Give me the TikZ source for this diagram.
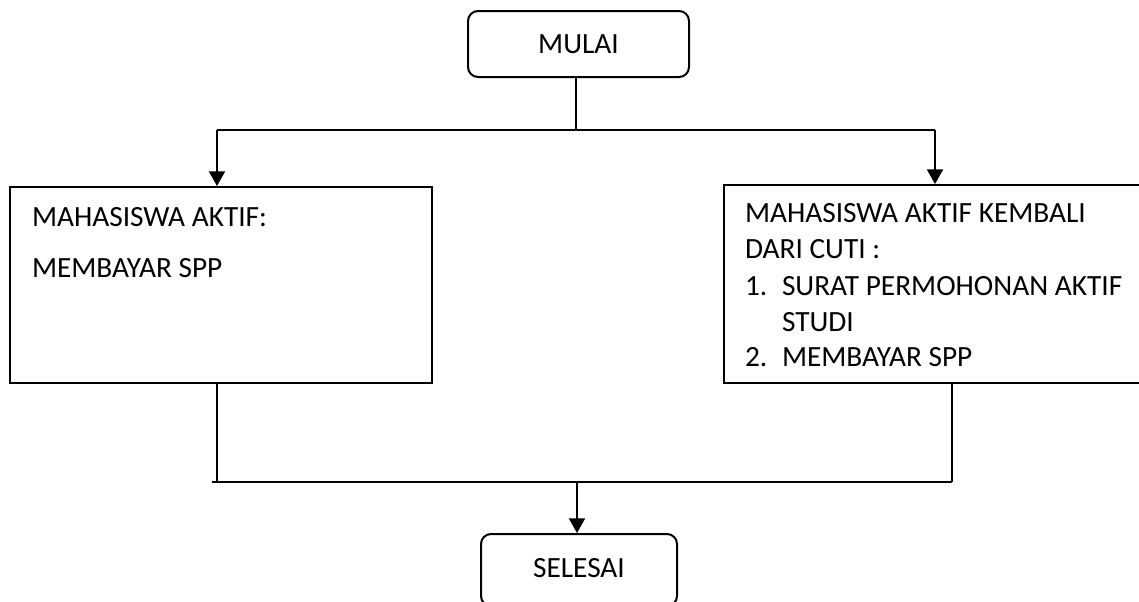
\documentclass[tikz,border=0pt]{standalone}
\usepackage{fontspec}
\setmainfont{Carlito}
\usetikzlibrary{arrows.meta}
\begin{document}
\begin{tikzpicture}[x=0.75pt,y=-0.75pt,
  line width=1.5pt,
  arrowline/.style={-{Triangle[length=11pt,width=12pt]}},
  terminal/.style={draw, rounded corners=7.5pt, inner sep=0pt,
    font=\fontsize{22}{27}\selectfont},
  procbox/.style={draw, inner sep=0pt},
  boxtext/.style={anchor=base west, inner sep=0pt,
    font=\fontsize{22}{27}\selectfont}]
\useasboundingbox (0,0) rectangle (1139,601);
\clip (0,0) rectangle (1139,601);

% start and end terminals
\node[terminal, minimum width=165.75pt, minimum height=49.5pt] (mulai) at (578.5,44) {MULAI};
\node[terminal, minimum width=147pt, minimum height=54pt] (selesai) at (579,570) {\raisebox{3pt}{SELESAI}};

% the two process boxes
\node[procbox, minimum width=316.5pt, minimum height=147pt] (aktif) at (221,285) {};
\node[procbox, minimum width=322.5pt, minimum height=148.5pt] (cuti) at (939,284) {};

% text of the left box
\node[boxtext] (a1) at ([shift={(22,40)}]aktif.north west) {MAHASISWA AKTIF:};
\node[boxtext] (a2) at ([shift={(22,91)}]aktif.north west) {MEMBAYAR SPP};

% text of the right box
\node[boxtext] (c1) at ([shift={(21,38)}]cuti.north west) {MAHASISWA AKTIF KEMBALI};
\node[boxtext] (c2) at ([shift={(21,74)}]cuti.north west) {DARI CUTI :};
\node[boxtext] (c3n) at ([shift={(21,111)}]cuti.north west) {1.};
\node[boxtext] (c3) at ([shift={(58,111)}]cuti.north west) {SURAT PERMOHONAN AKTIF};
\node[boxtext] (c4) at ([shift={(58,147)}]cuti.north west) {STUDI};
\node[boxtext] (c5n) at ([shift={(21,182)}]cuti.north west) {2.};
\node[boxtext] (c5) at ([shift={(58,182)}]cuti.north west) {MEMBAYAR SPP};

% split below the start terminal
\coordinate (split) at (576,130);
\coordinate (splitL) at (217,130);
\coordinate (splitR) at (935,130);
\draw (mulai.south -| split) -- (split);
\draw (splitL) -- (splitR);
\draw[arrowline] (splitL) -- (splitL |- aktif.north);
\draw[arrowline] (splitR) -- (splitR |- cuti.north);

% merge above the end terminal
\coordinate (joinL) at (217,481.7);
\coordinate (joinR) at (952,481.7);
\coordinate (joinS) at (212,481.7);
\coordinate (join) at (577,481.7);
\draw (joinL |- aktif.south) -- (joinL);
\draw (joinR |- cuti.south) -- (joinR);
\draw (joinS) -- (joinR);
\draw[arrowline] (join) -- (join |- selesai.north);
\end{tikzpicture}
\end{document}
